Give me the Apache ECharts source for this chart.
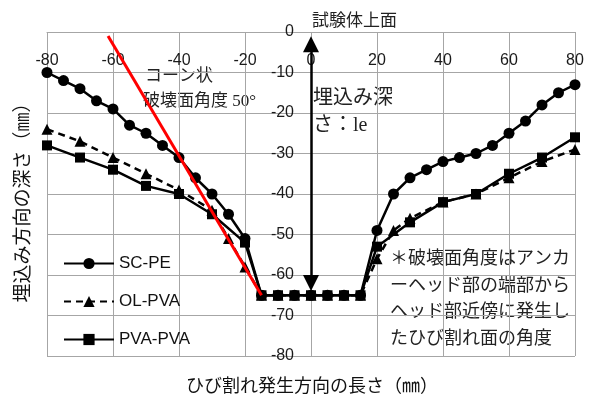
<!DOCTYPE html>
<html>
<head>
<meta charset="utf-8">
<script src="https://cdn.jsdelivr.net/npm/echarts@6/dist/echarts.min.js"></script>
<style>
  html, body { margin: 0; padding: 0; background: #fff; }
  #chart { width: 590px; height: 397px; }
</style>
</head>
<body>
<div id="chart"></div>
<script>
// Crack profile: depth (mm) against horizontal distance from the anchor (mm)
const scPeX = [-80, -75, -70, -65, -60, -55, -50, -45, -40, -35, -30, -25, -20, -15, -10, -5, 0, 5, 10, 15, 20, 25, 30, 35, 40, 45, 50, 55, 60, 65, 70, 75, 80];
const scPeY = [-10, -12, -14, -17, -19, -23, -25, -28, -31, -36, -40, -45, -51, -65, -65, -65, -65, -65, -65, -65, -49, -40, -36, -34, -32, -31, -30, -28, -25, -22, -18, -15, -13];

const olPvaX = [-80, -70, -60, -50, -40, -30, -25, -20, -15, -10, -5, 0, 5, 10, 15, 20, 25, 30, 40, 50, 60, 70, 80];
const olPvaY = [-24, -27, -31, -35, -39, -44, -51, -58, -65, -65, -65, -65, -65, -65, -65, -56, -49, -46, -42, -40, -36, -32, -29];

const pvaPvaX = [-80, -70, -60, -50, -40, -30, -20, -15, -10, -5, 0, 5, 10, 15, 20, 30, 40, 50, 60, 70, 80];
const pvaPvaY = [-28, -31, -34, -38, -40, -45, -52, -65, -65, -65, -65, -65, -65, -65, -53, -47, -42, -40, -35, -31, -26];

// Cone failure reference line (50°) and embedment-depth arrow
const coneLineX = [-61.5, -15];
const coneLineY = [-1, -65];
const depthArrowX = [0, 0];
const depthArrowY = [-3, -62];

const seriesNames = ['SC-PE', 'OL-PVA', 'PVA-PVA'];

const xMin = -80, xMax = 80;
const gridBox = { left: 47, right: 15, top: 32, bottom: 41 };
const gridWidth = 590 - gridBox.left - gridBox.right;
// shift the depth axis so that it sits on x = 0
const yAxisOffset = -gridWidth * (0 - xMin) / (xMax - xMin);

const zip = (xs, ys) => xs.map((x, i) => [x, ys[i]]);

const cjk = '"Noto Sans CJK JP", sans-serif';
const serifCjk = '"Liberation Serif", "Noto Sans CJK JP", serif';
const latin = '"Liberation Sans", Arial, sans-serif';

const chart = echarts.init(document.getElementById('chart'), null, { renderer: 'canvas' });

chart.setOption({
  animation: false,
  backgroundColor: '#ffffff',
  grid: gridBox,
  xAxis: {
    type: 'value',
    min: xMin, max: xMax, interval: 20,
    position: 'top',
    axisLine: { show: true, onZero: false, lineStyle: { color: '#a6a6a6', width: 1 } },
    axisTick: { show: false },
    axisLabel: { inside: true, margin: 21, fontSize: 16, color: '#1a1a1a', fontFamily: latin },
    splitLine: { show: true, lineStyle: { color: '#a6a6a6', width: 1 } }
  },
  yAxis: {
    type: 'value',
    min: -80, max: 0, interval: 10,
    position: 'left',
    offset: yAxisOffset,
    axisLine: { show: false, onZero: false },
    axisTick: { show: false },
    axisLabel: { margin: 17, fontSize: 16, color: '#1a1a1a', fontFamily: latin },
    splitLine: { show: true, lineStyle: { color: '#a6a6a6', width: 1 } }
  },
  legend: {
    data: seriesNames,
    orient: 'vertical',
    left: 58, top: 250,
    itemWidth: 50, itemHeight: 14, itemGap: 21,
    textStyle: { fontSize: 17, color: '#111', fontFamily: latin }
  },
  series: [
    {
      name: 'SC-PE', type: 'line', data: zip(scPeX, scPeY),
      symbol: 'circle', symbolSize: 11,
      lineStyle: { color: '#000', width: 2.5 },
      itemStyle: { color: '#000' }, z: 3
    },
    {
      name: 'OL-PVA', type: 'line', data: zip(olPvaX, olPvaY),
      symbol: 'triangle', symbolSize: 11,
      lineStyle: { color: '#000', width: 2.5, type: [7, 5] },
      itemStyle: { color: '#000' }, z: 4
    },
    {
      name: 'PVA-PVA', type: 'line', data: zip(pvaPvaX, pvaPvaY),
      symbol: 'rect', symbolSize: 10,
      lineStyle: { color: '#000', width: 2.5 },
      itemStyle: { color: '#000' }, z: 5
    },
    {
      name: 'cone', type: 'line', data: zip(coneLineX, coneLineY),
      symbol: 'none', silent: true,
      lineStyle: { color: '#ff0000', width: 3 }, z: 6
    },
    {
      name: 'depth', type: 'line', data: [], silent: true, z: 7,
      markLine: {
        silent: true,
        symbol: ['triangle', 'triangle'],
        symbolSize: [16, 16],
        label: { show: false },
        lineStyle: { color: '#000', width: 2.5, type: 'solid' },
        data: [[
          { coord: [depthArrowX[0], depthArrowY[0]] },
          { coord: [depthArrowX[1], depthArrowY[1]] }
        ]]
      }
    }
  ],
  graphic: [
    { type: 'text', left: 312, top: 11, silent: true,
      style: { text: '試験体上面', fontSize: 17, fill: '#222', fontFamily: cjk } },
    { type: 'text', left: 145, top: 66, silent: true,
      style: { text: 'コーン状', fontSize: 17, fill: '#222', fontFamily: cjk } },
    { type: 'text', left: 143, top: 93, silent: true,
      style: { text: '破壊面角度 50°', fontSize: 17, fill: '#222', fontFamily: serifCjk } },
    { type: 'text', left: 313, top: 86, silent: true,
      style: { text: '埋込み深', fontSize: 20, fill: '#222', fontFamily: cjk } },
    { type: 'text', left: 313, top: 116, silent: true,
      style: { text: 'さ：le', fontSize: 20, fill: '#222', fontFamily: serifCjk } },
    { type: 'text', left: 390, top: 244, silent: true,
      style: {
        text: '＊破壊面角度はアンカ\nーヘッド部の端部から\nヘッド部近傍に発生し\nたひび割れ面の角度',
        fontSize: 18, lineHeight: 26.5, fill: '#222', fontFamily: cjk
      } },
    { type: 'text', x: 312, y: 385, silent: true,
      style: { text: 'ひび割れ発生方向の長さ（㎜）', fontSize: 18, fill: '#111', fontFamily: cjk,
               align: 'center', verticalAlign: 'middle' } },
    { type: 'text', x: 22, y: 198, rotation: Math.PI / 2, silent: true,
      style: { text: '埋込み方向の深さ（㎜）', fontSize: 19, fill: '#111', fontFamily: cjk,
               align: 'center', verticalAlign: 'middle' } }
  ]
});
</script>
</body>
</html>
